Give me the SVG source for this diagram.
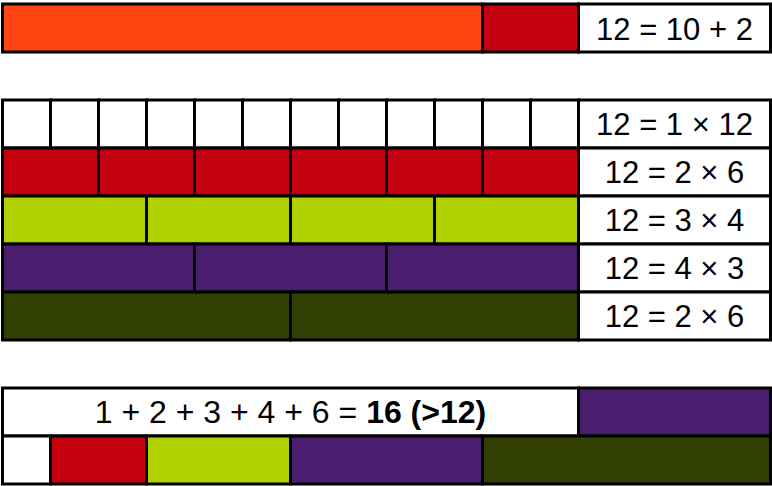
<svg xmlns="http://www.w3.org/2000/svg" width="772" height="486" viewBox="0 0 772 486">
<style>
rect{stroke:#000;stroke-width:3}
.w{fill:#fff}.o{fill:#FF4512}.r{fill:#C4000E}.g{fill:#B1D000}.p{fill:#4B1F6F}.d{fill:#323F03}
text{font-family:"Liberation Sans",Arial,sans-serif;font-size:31px;fill:#000;text-anchor:middle}
</style>
<rect x="0" y="0" width="772" height="486" style="fill:#fff;stroke:none"/>
<g id="row-sum">
<rect class="o" x="2.5" y="4" width="480" height="48"/>
<rect class="r" x="482.5" y="4" width="96" height="48"/>
<rect class="w" x="578.5" y="4" width="192" height="48"/>
<text x="674.5" y="39.5">12 = 10 + 2</text>
</g>
<g id="row-1x12">
<rect class="w" x="2.5" y="100" width="48" height="48"/>
<rect class="w" x="50.5" y="100" width="48" height="48"/>
<rect class="w" x="98.5" y="100" width="48" height="48"/>
<rect class="w" x="146.5" y="100" width="48" height="48"/>
<rect class="w" x="194.5" y="100" width="48" height="48"/>
<rect class="w" x="242.5" y="100" width="48" height="48"/>
<rect class="w" x="290.5" y="100" width="48" height="48"/>
<rect class="w" x="338.5" y="100" width="48" height="48"/>
<rect class="w" x="386.5" y="100" width="48" height="48"/>
<rect class="w" x="434.5" y="100" width="48" height="48"/>
<rect class="w" x="482.5" y="100" width="48" height="48"/>
<rect class="w" x="530.5" y="100" width="48" height="48"/>
<rect class="w" x="578.5" y="100" width="192" height="48"/>
<text x="674.5" y="135">12 = 1 × 12</text>
</g>
<g id="row-2x6">
<rect class="r" x="2.5" y="148" width="96" height="48"/>
<rect class="r" x="98.5" y="148" width="96" height="48"/>
<rect class="r" x="194.5" y="148" width="96" height="48"/>
<rect class="r" x="290.5" y="148" width="96" height="48"/>
<rect class="r" x="386.5" y="148" width="96" height="48"/>
<rect class="r" x="482.5" y="148" width="96" height="48"/>
<rect class="w" x="578.5" y="148" width="192" height="48"/>
<text x="674.5" y="183">12 = 2 × 6</text>
</g>
<g id="row-3x4">
<rect class="g" x="2.5" y="196" width="144" height="48"/>
<rect class="g" x="146.5" y="196" width="144" height="48"/>
<rect class="g" x="290.5" y="196" width="144" height="48"/>
<rect class="g" x="434.5" y="196" width="144" height="48"/>
<rect class="w" x="578.5" y="196" width="192" height="48"/>
<text x="674.5" y="231">12 = 3 × 4</text>
</g>
<g id="row-4x3">
<rect class="p" x="2.5" y="244" width="192" height="48"/>
<rect class="p" x="194.5" y="244" width="192" height="48"/>
<rect class="p" x="386.5" y="244" width="192" height="48"/>
<rect class="w" x="578.5" y="244" width="192" height="48"/>
<text x="674.5" y="279">12 = 4 × 3</text>
</g>
<g id="row-6x2">
<rect class="d" x="2.5" y="292" width="288" height="48"/>
<rect class="d" x="290.5" y="292" width="288" height="48"/>
<rect class="w" x="578.5" y="292" width="192" height="48"/>
<text x="674.5" y="327">12 = 2 × 6</text>
</g>
<g id="row-total">
<rect class="w" x="2.5" y="388" width="576" height="48"/>
<rect class="p" x="578.5" y="388" width="192" height="48"/>
<text x="290.5" y="423" style="font-size:32px">1 + 2 + 3 + 4 + 6 = <tspan font-weight="bold">16 (&gt;12)</tspan></text>
</g>
<g id="row-divisors">
<rect class="w" x="2.5" y="436" width="48" height="48"/>
<rect class="r" x="50.5" y="436" width="96" height="48"/>
<rect class="g" x="146.5" y="436" width="144" height="48"/>
<rect class="p" x="290.5" y="436" width="192" height="48"/>
<rect class="d" x="482.5" y="436" width="288" height="48"/>
</g>
<g id="connectors"></g>
</svg>
